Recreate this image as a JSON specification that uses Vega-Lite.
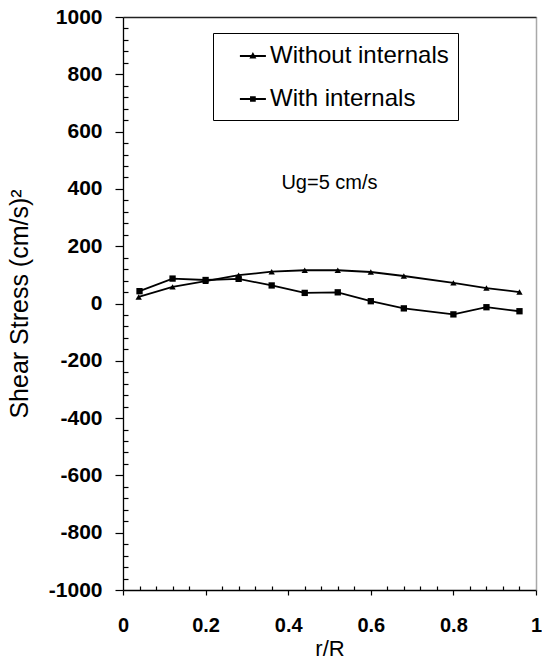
{
  "$schema": "https://vega.github.io/schema/vega-lite/v6.json",
  "autosize": {"type": "none"},
  "padding": {"left": 123, "top": 17, "right": 6, "bottom": 74},
  "width": 413,
  "height": 573,
  "background": "white",
  "config": {
    "view": {"stroke": null},
    "font": "Liberation Sans",
    "axis": {"domainColor": "black", "tickColor": "black", "labelColor": "black", "titleColor": "black", "grid": false, "domainWidth": 1.3, "tickWidth": 1.2}
  },
  "datasets": {
    "series": [
      {"r": 0.038, "v": 23, "s": "Without internals"},
      {"r": 0.12, "v": 58, "s": "Without internals"},
      {"r": 0.2, "v": 78, "s": "Without internals"},
      {"r": 0.28, "v": 99, "s": "Without internals"},
      {"r": 0.36, "v": 111, "s": "Without internals"},
      {"r": 0.44, "v": 116, "s": "Without internals"},
      {"r": 0.52, "v": 116, "s": "Without internals"},
      {"r": 0.6, "v": 110, "s": "Without internals"},
      {"r": 0.68, "v": 96, "s": "Without internals"},
      {"r": 0.8, "v": 72, "s": "Without internals"},
      {"r": 0.88, "v": 54, "s": "Without internals"},
      {"r": 0.96, "v": 40, "s": "Without internals"},
      {"r": 0.04, "v": 43, "s": "With internals"},
      {"r": 0.12, "v": 87, "s": "With internals"},
      {"r": 0.2, "v": 82, "s": "With internals"},
      {"r": 0.28, "v": 86, "s": "With internals"},
      {"r": 0.36, "v": 63, "s": "With internals"},
      {"r": 0.44, "v": 37, "s": "With internals"},
      {"r": 0.52, "v": 39, "s": "With internals"},
      {"r": 0.6, "v": 8, "s": "With internals"},
      {"r": 0.68, "v": -17, "s": "With internals"},
      {"r": 0.8, "v": -38, "s": "With internals"},
      {"r": 0.88, "v": -13, "s": "With internals"},
      {"r": 0.96, "v": -27, "s": "With internals"}
    ],
    "note": [{"r": 0.5, "v": 420, "t": "Ug=5 cm/s"}]
  },
  "resolve": {"axis": {"x": "independent", "y": "independent"}, "scale": {"shape": "independent"}, "legend": {"shape": "independent"}},
  "layer": [
    {
      "data": {"name": "series"},
      "mark": {"type": "line", "color": "black", "strokeWidth": 1.8},
      "encoding": {
        "x": {"field": "r", "type": "quantitative",
          "scale": {"domain": [0, 1], "nice": false, "zero": false},
          "axis": {
            "title": "r/R", "titleFontSize": 22, "titleFontWeight": "normal", "titlePadding": 3,
            "values": [0,0.04,0.08,0.12,0.16,0.2,0.24,0.28,0.32,0.36,0.4,0.44,0.48,0.52,0.56,0.6,0.64,0.68,0.72,0.76,0.8,0.84,0.88,0.92,0.96,1],
            "labelExpr": "round(datum.value*100) % 20 == 0 ? '' + datum.value : ''",
            "labelFontSize": 20, "labelFontWeight": "bold", "labelPadding": 20, "labelFlush": false, "labelOverlap": false,
            "tickSize": {"condition": {"test": "round(datum.value*100) % 20 == 0", "value": 5}, "value": -4}
          }
        },
        "y": {"field": "v", "type": "quantitative",
          "scale": {"domain": [-1000, 1000], "nice": false, "zero": false},
          "axis": {
            "title": "Shear Stress (cm/s)²", "titleFontSize": 25, "titleFontWeight": "normal", "titlePadding": 16,
            "values": [-1000,-960,-920,-880,-840,-800,-760,-720,-680,-640,-600,-560,-520,-480,-440,-400,-360,-320,-280,-240,-200,-160,-120,-80,-40,0,40,80,120,160,200,240,280,320,360,400,440,480,520,560,600,640,680,720,760,800,840,880,920,960,1000],
            "labelExpr": "datum.value % 200 == 0 ? '' + datum.value : ''",
            "labelFontSize": 21, "labelFontWeight": "bold", "labelPadding": 13, "labelFlush": false, "labelOverlap": false,
            "tickSize": {"condition": {"test": "datum.value % 200 == 0", "value": 8}, "value": -5}
          }
        },
        "detail": {"field": "s", "type": "nominal"}
      }
    },
    {
      "data": {"name": "series"},
      "mark": {"type": "point", "filled": true, "color": "black", "opacity": 1},
      "encoding": {
        "x": {"field": "r", "type": "quantitative", "axis": null},
        "y": {"field": "v", "type": "quantitative", "axis": null},
        "shape": {"field": "s", "type": "nominal", "legend": null,
          "scale": {"domain": ["Without internals", "With internals"], "range": ["triangle-up", "square"]}},
        "size": {"value": 40}
      }
    },
    {
      "data": {"values": []},
      "mark": {"type": "point", "filled": true, "color": "black", "opacity": 1},
      "encoding": {
        "shape": {"field": "s", "type": "nominal",
          "scale": {"domain": ["Without internals", "With internals"],
            "range": ["M0.3,-0.07H2.3V0.07H0.3ZM1.3,-0.3L1.57,0.2H1.03Z", "M0.3,-0.07H2.3V0.07H0.3ZM1.08,-0.22H1.52V0.22H1.08Z"]},
          "legend": {
            "title": null, "orient": "none", "legendX": 90, "legendY": 16,
            "strokeColor": "black", "fillColor": "white", "padding": 9,
            "symbolSize": 676, "symbolFillColor": "black",
            "labelFontSize": 24, "labelFont": "Liberation Sans", "labelColor": "black", "labelOffset": 20,
            "labelExpr": "datum.label == 'Without internals' ? datum.label + '\u00a0\u00a0\u00a0\u00a0' : datum.label",
            "rowPadding": 17, "labelLimit": 400
          }
        }
      }
    },
    {
      "data": {"name": "note"},
      "mark": {"type": "text", "fontSize": 20, "color": "black", "align": "center", "baseline": "middle"},
      "encoding": {
        "x": {"field": "r", "type": "quantitative",
          "axis": {"orient": "top", "labels": false, "ticks": false, "title": null, "domainColor": "#222"}},
        "y": {"field": "v", "type": "quantitative",
          "axis": {"orient": "right", "labels": false, "ticks": false, "title": null, "domainColor": "#555", "domainDash": [1, 1], "domainWidth": 1.5}},
        "text": {"field": "t"}
      }
    }
  ]
}
